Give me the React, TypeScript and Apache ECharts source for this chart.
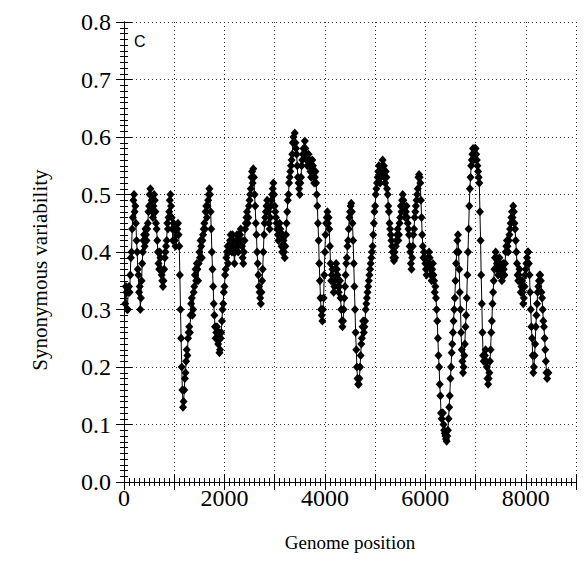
import React, { useEffect, useRef } from 'react';
import * as echarts from 'echarts';

const xTickLabels = ['0', '2000', '4000', '6000', '8000'];
const yTickLabels = ['0.0', '0.1', '0.2', '0.3', '0.4', '0.5', '0.6', '0.7', '0.8'];
const xAxisTitle = 'Genome position';
const yAxisTitle = 'Synonymous variability';
const panelLabel = 'C';

// [genome position, synonymous variability]
const variability: [number, number][] = [
  [25, .31], [37, .34], [50, .33], [62, .30], [75, .30], [87, .33], [100, .34], [112, .33], [125, .36], [137, .39],
  [150, .40], [162, .44], [175, .46], [187, .49], [200, .50], [212, .47], [225, .48], [237, .45], [250, .42], [262, .40],
  [275, .37], [287, .36], [300, .33], [312, .34], [325, .30], [337, .32], [350, .35], [362, .38], [375, .40], [387, .42],
  [400, .43], [412, .41], [425, .44], [437, .43], [450, .42], [462, .44], [475, .45], [487, .47], [500, .48], [512, .50],
  [525, .51], [537, .48], [550, .49], [562, .47], [575, .46], [587, .48], [600, .50], [612, .49], [625, .47], [637, .45],
  [650, .44], [662, .42], [675, .40], [687, .38], [700, .37], [712, .40], [725, .39], [737, .37], [750, .36], [762, .35],
  [775, .34], [787, .35], [800, .37], [812, .39], [825, .40], [837, .41], [850, .42], [862, .45], [875, .44], [887, .46],
  [900, .47], [912, .49], [925, .50], [937, .48], [950, .46], [962, .44], [975, .42], [987, .45], [1000, .44], [1012, .42],
  [1025, .41], [1037, .44], [1050, .43], [1062, .44], [1075, .45], [1087, .43], [1100, .41], [1112, .36], [1125, .30], [1137, .25],
  [1150, .20], [1162, .16], [1175, .13], [1187, .14], [1200, .16], [1212, .18], [1225, .19], [1237, .21], [1250, .23], [1262, .22],
  [1275, .25], [1287, .26], [1300, .27], [1312, .26], [1325, .29], [1337, .31], [1350, .32], [1362, .29], [1375, .30], [1387, .33],
  [1400, .34], [1412, .36], [1425, .37], [1437, .35], [1450, .38], [1462, .37], [1475, .35], [1487, .38], [1500, .40], [1512, .39],
  [1525, .42], [1537, .41], [1550, .39], [1562, .42], [1575, .43], [1587, .44], [1600, .45], [1612, .44], [1625, .47], [1637, .48],
  [1650, .46], [1662, .48], [1675, .49], [1687, .50], [1700, .51], [1712, .50], [1725, .47], [1737, .44], [1750, .40], [1762, .37],
  [1775, .34], [1787, .31], [1800, .29], [1812, .27], [1825, .25], [1837, .26], [1850, .27], [1862, .25], [1875, .24], [1887, .26],
  [1900, .225], [1912, .23], [1925, .25], [1937, .26], [1950, .28], [1962, .30], [1975, .31], [1987, .33], [2000, .34], [2012, .36],
  [2025, .37], [2037, .39], [2050, .40], [2062, .41], [2075, .38], [2087, .40], [2100, .41], [2112, .42], [2125, .43], [2137, .41],
  [2150, .40], [2162, .43], [2175, .42], [2187, .40], [2200, .38], [2212, .40], [2225, .41], [2237, .42], [2250, .43], [2262, .41],
  [2275, .40], [2287, .43], [2300, .42], [2312, .43], [2325, .44], [2337, .42], [2350, .41], [2362, .39], [2375, .38], [2387, .40],
  [2400, .42], [2412, .44], [2425, .45], [2437, .46], [2450, .47], [2462, .45], [2475, .46], [2487, .48], [2500, .49], [2512, .50],
  [2525, .51], [2537, .53], [2550, .54], [2562, .52], [2575, .545], [2587, .53], [2600, .50], [2612, .48], [2625, .45], [2637, .43],
  [2650, .40], [2662, .38], [2675, .36], [2687, .34], [2700, .33], [2712, .32], [2725, .31], [2737, .33], [2750, .35], [2762, .37],
  [2775, .40], [2787, .43], [2800, .45], [2812, .46], [2825, .47], [2837, .48], [2850, .49], [2862, .48], [2875, .47], [2887, .45],
  [2900, .44], [2912, .46], [2925, .48], [2937, .49], [2950, .50], [2962, .51], [2975, .52], [2987, .50], [3000, .48], [3012, .47],
  [3025, .46], [3037, .45], [3050, .44], [3062, .43], [3075, .42], [3087, .44], [3100, .45], [3112, .44], [3125, .43], [3137, .41],
  [3150, .40], [3162, .43], [3175, .42], [3187, .40], [3200, .39], [3212, .41], [3225, .43], [3237, .45], [3250, .47], [3262, .49],
  [3275, .50], [3287, .52], [3300, .53], [3312, .54], [3325, .55], [3337, .56], [3350, .57], [3362, .59], [3375, .60], [3387, .59],
  [3400, .607], [3412, .59], [3425, .58], [3437, .57], [3450, .55], [3462, .53], [3475, .52], [3487, .51], [3500, .50], [3512, .52],
  [3525, .53], [3537, .55], [3550, .56], [3562, .57], [3575, .58], [3587, .57], [3600, .593], [3612, .58], [3625, .57], [3637, .56],
  [3650, .55], [3662, .56], [3675, .57], [3687, .56], [3700, .55], [3712, .54], [3725, .53], [3737, .55], [3750, .56], [3762, .55],
  [3775, .54], [3787, .52], [3800, .53], [3812, .54], [3825, .52], [3837, .50], [3850, .48], [3862, .45], [3875, .42], [3887, .38],
  [3900, .35], [3912, .32], [3925, .30], [3937, .29], [3950, .28], [3962, .30], [3975, .32], [3987, .36], [4000, .40], [4012, .43],
  [4025, .45], [4037, .46], [4050, .47], [4062, .45], [4075, .46], [4087, .44], [4100, .41], [4112, .38], [4125, .35], [4137, .36],
  [4150, .37], [4162, .35], [4175, .33], [4187, .34], [4200, .35], [4212, .37], [4225, .38], [4237, .37], [4250, .36], [4262, .34],
  [4275, .33], [4287, .34], [4300, .35], [4312, .32], [4325, .30], [4337, .28], [4350, .27], [4362, .28], [4375, .30], [4387, .32],
  [4400, .34], [4412, .36], [4425, .38], [4437, .39], [4450, .41], [4462, .42], [4475, .44], [4487, .46], [4500, .47], [4512, .48],
  [4525, .485], [4537, .47], [4550, .45], [4562, .42], [4575, .38], [4587, .34], [4600, .30], [4612, .26], [4625, .23], [4637, .20],
  [4650, .18], [4662, .17], [4675, .17], [4687, .18], [4700, .20], [4712, .22], [4725, .24], [4737, .25], [4750, .27], [4762, .28],
  [4775, .26], [4787, .27], [4800, .28], [4812, .30], [4825, .31], [4837, .32], [4850, .33], [4862, .34], [4875, .35], [4887, .36],
  [4900, .37], [4912, .38], [4925, .39], [4937, .40], [4950, .41], [4962, .43], [4975, .45], [4987, .47], [5000, .48], [5012, .50],
  [5025, .51], [5037, .52], [5050, .53], [5062, .54], [5075, .55], [5087, .53], [5100, .52], [5112, .53], [5125, .54], [5137, .55],
  [5150, .56], [5162, .54], [5175, .55], [5187, .53], [5200, .52], [5212, .54], [5225, .53], [5237, .51], [5250, .50], [5262, .48],
  [5275, .47], [5287, .45], [5300, .44], [5312, .43], [5325, .42], [5337, .41], [5350, .40], [5362, .39], [5375, .385], [5387, .40],
  [5400, .39], [5412, .41], [5425, .42], [5437, .43], [5450, .44], [5462, .42], [5475, .43], [5487, .45], [5500, .46], [5512, .48],
  [5525, .47], [5537, .49], [5550, .50], [5562, .49], [5575, .48], [5587, .47], [5600, .46], [5612, .47], [5625, .48], [5637, .46],
  [5650, .45], [5662, .44], [5675, .43], [5687, .41], [5700, .40], [5712, .38], [5725, .37], [5737, .39], [5750, .41], [5762, .43],
  [5775, .44], [5787, .46], [5800, .47], [5812, .48], [5825, .49], [5837, .50], [5850, .51], [5862, .53], [5875, .535], [5887, .53],
  [5900, .52], [5912, .49], [5925, .46], [5937, .43], [5950, .41], [5962, .39], [5975, .40], [5987, .39], [6000, .38], [6012, .37],
  [6025, .36], [6037, .38], [6050, .39], [6062, .38], [6075, .40], [6087, .39], [6100, .37], [6112, .36], [6125, .35], [6137, .37],
  [6150, .38], [6162, .36], [6175, .35], [6187, .33], [6200, .34], [6212, .32], [6225, .30], [6237, .28], [6250, .25], [6262, .22],
  [6275, .20], [6287, .17], [6300, .15], [6312, .12], [6325, .11], [6337, .12], [6350, .12], [6362, .10], [6375, .09], [6387, .085],
  [6400, .08], [6412, .075], [6425, .071], [6437, .08], [6450, .09], [6462, .11], [6475, .13], [6487, .15], [6500, .18], [6512, .20],
  [6525, .225], [6537, .24], [6550, .26], [6562, .28], [6575, .30], [6587, .32], [6600, .35], [6612, .38], [6625, .40], [6637, .42],
  [6650, .43], [6662, .40], [6675, .37], [6687, .33], [6700, .30], [6712, .26], [6725, .23], [6737, .21], [6750, .19], [6762, .20],
  [6775, .22], [6787, .24], [6800, .27], [6812, .29], [6825, .32], [6837, .36], [6850, .40], [6862, .44], [6875, .48], [6887, .51],
  [6900, .53], [6912, .55], [6925, .56], [6937, .57], [6950, .58], [6962, .56], [6975, .57], [6987, .58], [7000, .58], [7012, .57],
  [7025, .56], [7037, .55], [7050, .54], [7062, .53], [7075, .52], [7087, .47], [7100, .42], [7112, .36], [7125, .31], [7137, .26],
  [7150, .22], [7162, .21], [7175, .21], [7187, .22], [7200, .23], [7212, .21], [7225, .20], [7237, .18], [7250, .17], [7262, .18],
  [7275, .19], [7287, .21], [7300, .23], [7312, .26], [7325, .28], [7337, .31], [7350, .33], [7362, .35], [7375, .37], [7387, .39],
  [7400, .40], [7412, .39], [7425, .38], [7437, .37], [7450, .36], [7462, .38], [7475, .39], [7487, .38], [7500, .37], [7512, .36],
  [7525, .35], [7537, .37], [7550, .38], [7562, .37], [7575, .36], [7587, .38], [7600, .40], [7612, .41], [7625, .42], [7637, .41],
  [7650, .40], [7662, .42], [7675, .43], [7687, .44], [7700, .45], [7712, .46], [7725, .47], [7737, .46], [7750, .48], [7762, .47],
  [7775, .45], [7787, .44], [7800, .42], [7812, .40], [7825, .38], [7837, .36], [7850, .35], [7862, .36], [7875, .37], [7887, .35],
  [7900, .33], [7912, .34], [7925, .35], [7937, .33], [7950, .31], [7962, .32], [7975, .34], [7987, .36], [8000, .37], [8012, .38],
  [8025, .39], [8037, .40], [8050, .40], [8062, .38], [8075, .36], [8087, .33], [8100, .30], [8112, .27], [8125, .25], [8137, .22],
  [8150, .19], [8162, .20], [8175, .22], [8187, .24], [8200, .27], [8212, .29], [8225, .31], [8237, .33], [8250, .34], [8262, .35],
  [8275, .36], [8287, .36], [8300, .35], [8312, .33], [8325, .32], [8337, .30], [8350, .28], [8362, .27], [8375, .25], [8387, .23],
  [8400, .21], [8412, .19], [8425, .18], [8437, .19], [8450, .19],
];

const SERIF = "'Liberation Serif', 'Times New Roman', Times, serif";

export default function App() {
  const ref = useRef<HTMLDivElement>(null);

  useEffect(() => {
    if (!ref.current) return;
    const chart = echarts.init(ref.current, undefined, { renderer: 'svg' });

    const tickCommon = {
      axisLine: { show: true, lineStyle: { color: '#000', width: 1 } },
      axisTick: { show: true, inside: true, length: 8, lineStyle: { color: '#000', width: 1 } },
      minorTick: { show: true, splitNumber: 10, length: 4, lineStyle: { color: '#000', width: 1 } },
      minorSplitLine: { show: false },
    };

    chart.setOption({
      animation: false,
      backgroundColor: '#fff',
      grid: { left: 124, right: 8, top: 22, bottom: 100, containLabel: false },
      xAxis: [
        {
          type: 'value', min: 0, max: 9000, interval: 1000, position: 'bottom',
          ...tickCommon,
          splitLine: { show: true, lineStyle: { color: '#333', width: 1, type: [1, 3] } },
          axisLabel: {
            show: true, color: '#000', fontFamily: SERIF, fontSize: 24, margin: 4,
            formatter: (v: number) => (xTickLabels.includes(String(v)) ? String(v) : ''),
          },
        },
        {
          type: 'value', min: 0, max: 9000, interval: 1000, position: 'top',
          ...tickCommon,
          splitLine: { show: false },
          axisLabel: { show: false },
        },
      ],
      yAxis: [
        {
          type: 'value', min: 0, max: 0.8, interval: 0.1, position: 'left',
          ...tickCommon,
          splitLine: { show: true, lineStyle: { color: '#333', width: 1, type: [1, 3] } },
          axisLabel: {
            show: true, color: '#000', fontFamily: SERIF, fontSize: 24, margin: 13,
            formatter: (v: number) => yTickLabels[Math.round(v * 10)] ?? '',
          },
        },
        {
          type: 'value', min: 0, max: 0.8, interval: 0.1, position: 'right',
          ...tickCommon,
          splitLine: { show: false },
          axisLabel: { show: false },
        },
      ],
      graphic: [
        {
          type: 'text', left: 134, top: 33,
          style: { text: panelLabel, fontSize: 16, fontFamily: "'Liberation Sans', sans-serif", fill: '#000' },
        },
        {
          type: 'text', x: 350, y: 542,
          style: {
            text: xAxisTitle, fontSize: 19, fontFamily: SERIF, fill: '#000',
            textAlign: 'center', textVerticalAlign: 'middle', verticalAlign: 'middle',
          },
        },
        {
          type: 'text', x: 40, y: 270, rotation: Math.PI / 2,
          style: {
            text: yAxisTitle, fontSize: 21, fontFamily: SERIF, fill: '#000',
            textAlign: 'center', textVerticalAlign: 'middle', verticalAlign: 'middle',
          },
        },
      ],
      series: [
        {
          type: 'line',
          data: variability,
          xAxisIndex: 0, yAxisIndex: 0,
          symbol: 'diamond', symbolSize: [8, 9], showAllSymbol: true,
          lineStyle: { color: '#000', width: 1 },
          itemStyle: { color: '#000' },
          silent: true,
        },
      ],
    });

    return () => chart.dispose();
  }, []);

  return <div ref={ref} style={{ position: 'fixed', left: 0, top: 0, width: 584, height: 582 }} />;
}
